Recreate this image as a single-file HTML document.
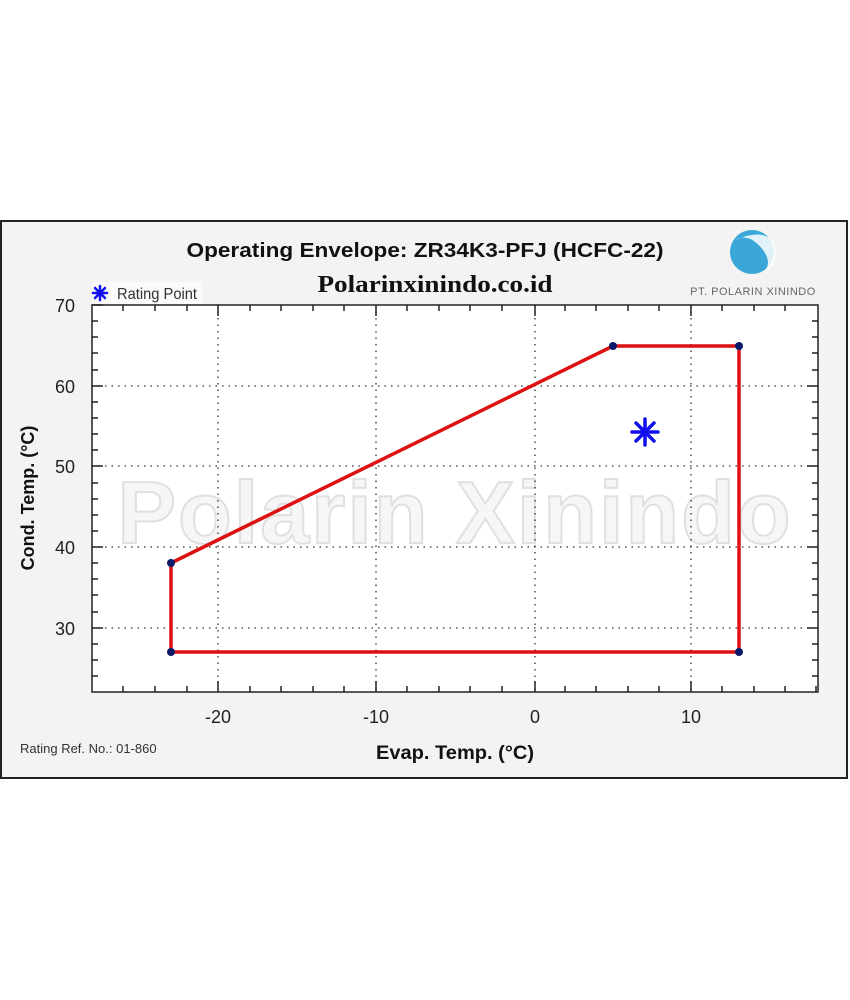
<!DOCTYPE html>
<html><head><style>
html,body{margin:0;padding:0;background:#fff;}
svg{display:block;font-family:"Liberation Sans",Arial,sans-serif;}
</style></head><body>
<svg width="850" height="1000" viewBox="0 0 850 1000" xmlns="http://www.w3.org/2000/svg">
<rect x="0" y="0" width="850" height="1000" fill="#fff"/>
<rect x="1" y="221" width="846" height="557" fill="#f3f3f3" stroke="#222" stroke-width="2"/>
<rect x="92" y="305" width="726" height="387" fill="#fff"/>
<!-- watermark -->
<text x="455" y="543" text-anchor="middle" font-size="88" font-weight="bold" fill="#f6f6f6" stroke="#e0e0e0" stroke-width="2" letter-spacing="2">Polarin Xinindo</text>
<!-- grid -->
<g stroke="#333" stroke-width="1.3" stroke-dasharray="1.5,5">
<line x1="218" y1="305" x2="218" y2="692"/>
<line x1="376" y1="305" x2="376" y2="692"/>
<line x1="535" y1="305" x2="535" y2="692"/>
<line x1="691" y1="305" x2="691" y2="692"/>
<line x1="92" y1="386" x2="818" y2="386"/>
<line x1="92" y1="466" x2="818" y2="466"/>
<line x1="92" y1="547" x2="818" y2="547"/>
<line x1="92" y1="628" x2="818" y2="628"/>
</g>
<!-- ticks -->
<g stroke="#222" stroke-width="1.5">
<path d="M123,692v-6M155,692v-6M187,692v-6M218,692v-11M250,692v-6M281,692v-6M313,692v-6M344,692v-6M376,692v-11M407,692v-6M439,692v-6M470,692v-6M502,692v-6M535,692v-11M565,692v-6M596,692v-6M628,692v-6M659,692v-6M691,692v-11M722,692v-6M754,692v-6M785,692v-6M816,692v-6"/>
<path d="M123,305v6M155,305v6M187,305v6M218,305v11M250,305v6M281,305v6M313,305v6M344,305v6M376,305v11M407,305v6M439,305v6M470,305v6M502,305v6M535,305v11M565,305v6M596,305v6M628,305v6M659,305v6M691,305v11M722,305v6M754,305v6M785,305v6"/>
<path d="M92,305h11M92,321h6M92,337h6M92,353h6M92,370h6M92,386h11M92,402h6M92,418h6M92,434h6M92,450h6M92,466h11M92,483h6M92,499h6M92,515h6M92,531h6M92,547h11M92,563h6M92,579h6M92,595h6M92,612h6M92,628h11M92,644h6M92,660h6M92,676h6"/>
<path d="M818,321h-6M818,337h-6M818,353h-6M818,370h-6M818,386h-11M818,402h-6M818,418h-6M818,434h-6M818,450h-6M818,466h-11M818,483h-6M818,499h-6M818,515h-6M818,531h-6M818,547h-11M818,563h-6M818,579h-6M818,595h-6M818,612h-6M818,628h-11M818,644h-6M818,660h-6M818,676h-6"/>
</g>
<rect x="92" y="305" width="726" height="387" fill="none" stroke="#222" stroke-width="1.5"/>
<!-- envelope -->
<polygon points="171,563 613,346 739,346 739,652 171,652" fill="none" stroke="#dd1111" stroke-width="3.5"/>
<g fill="#0a1a6a">
<circle cx="171" cy="563" r="4"/><circle cx="613" cy="346" r="4"/><circle cx="739" cy="346" r="4"/><circle cx="739" cy="652" r="4"/><circle cx="171" cy="652" r="4"/>
</g>
<!-- rating point -->
<g stroke="#1010ee" stroke-width="3.5" stroke-linecap="round">
<path d="M645,419v26M632,432h26M636,423l18,18M654,423l-18,18"/>
</g>
<!-- legend -->
<rect x="92" y="282" width="110" height="22" fill="#fafafa"/>
<g stroke="#1010ee" stroke-width="2.5" stroke-linecap="round">
<path d="M100,286v14M93,293h14M95,288l10,10M105,288l-10,10"/>
</g>
<text x="117" y="299" font-size="16" fill="#333" textLength="80" lengthAdjust="spacingAndGlyphs">Rating Point</text>
<!-- titles -->
<text x="425" y="257" text-anchor="middle" font-size="20" font-weight="bold" fill="#111" textLength="477" lengthAdjust="spacingAndGlyphs">Operating Envelope: ZR34K3-PFJ (HCFC-22)</text>
<text x="435" y="292" text-anchor="middle" font-size="24" font-weight="bold" fill="#111" font-family="Liberation Serif,serif" textLength="235" lengthAdjust="spacingAndGlyphs">Polarinxinindo.co.id</text>
<!-- logo -->
<circle cx="752" cy="252" r="22" fill="#3aa7d8"/>
<path d="M735,240 q14,-8 28,10 q10,14 0,22 q18,-8 10,-30 q-10,-14 -38,-2z" fill="#fff" opacity="0.85"/>
<text x="753" y="295" text-anchor="middle" font-size="11" fill="#666" letter-spacing="0.5">PT. POLARIN XININDO</text>
<!-- tick labels -->
<g font-size="18" fill="#222" text-anchor="middle">
<text x="218" y="723">-20</text><text x="376" y="723">-10</text><text x="535" y="723">0</text><text x="691" y="723">10</text>
</g>
<g font-size="18" fill="#222" text-anchor="end">
<text x="75" y="312">70</text><text x="75" y="393">60</text><text x="75" y="473">50</text><text x="75" y="554">40</text><text x="75" y="635">30</text>
</g>
<text x="455" y="759" text-anchor="middle" font-size="19" font-weight="bold" fill="#111" textLength="158" lengthAdjust="spacingAndGlyphs">Evap. Temp. (°C)</text>
<text transform="translate(34,498) rotate(-90)" text-anchor="middle" font-size="18" font-weight="bold" fill="#111">Cond. Temp. (°C)</text>
<text x="20" y="753" font-size="13" fill="#333">Rating Ref. No.: 01-860</text>
</svg>
</body></html>
